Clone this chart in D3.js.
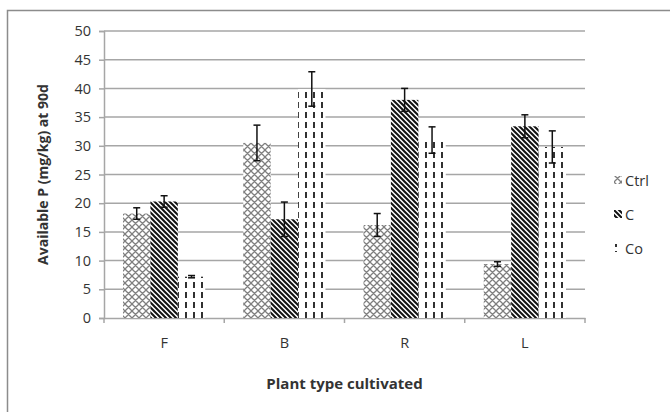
<!DOCTYPE html>
<html>
<head>
<meta charset="utf-8">
<script src="https://cdn.jsdelivr.net/npm/d3@7"></script>
<style>
  body { margin: 0; background: #fff; }
  text { font-family: "Open Sans", "Liberation Sans", sans-serif; fill: #333; }
</style>
</head>
<body>
<div id="chart"></div>
<script>
// Data
const categories = ["F", "B", "R", "L"];
const seriesNames = ["Ctrl", "C", "Co"];
const ctrlValues = [18.2, 30.5, 16.2, 9.4];
const ctrlErrors = [1.0, 3.1, 2.0, 0.4];
const cValues = [20.3, 17.2, 38.0, 33.4];
const cErrors = [1.0, 3.0, 2.0, 2.0];
const coValues = [7.2, 39.9, 31.0, 29.8];
const coErrors = [0.2, 3.0, 2.3, 2.8];
const yTicks = [0, 5, 10, 15, 20, 25, 30, 35, 40, 45, 50];

const width = 670, height = 412;
const margin = {top: 31, right: 85, bottom: 94, left: 104};

const svg = d3.select("#chart")
    .append("svg")
    .attr("width", width)
    .attr("height", height);

// patterns
const defs = svg.append("defs");

const pCtrl = defs.append("pattern")
    .attr("id", "pat-ctrl")
    .attr("patternUnits", "userSpaceOnUse")
    .attr("width", 7).attr("height", 7);
pCtrl.append("rect").attr("width", 7).attr("height", 7).attr("fill", "#fff");
pCtrl.append("path")
    .attr("d", "M-2,2 L2,-2 M0,7 L7,0 M5,9 L9,5 M-2,5 L2,9 M0,0 L7,7 M5,-2 L9,2")
    .attr("stroke", "#7f7f7f").attr("stroke-width", 1.3);

const pC = defs.append("pattern")
    .attr("id", "pat-c")
    .attr("patternUnits", "userSpaceOnUse")
    .attr("width", 5).attr("height", 5);
pC.append("rect").attr("width", 5).attr("height", 5).attr("fill", "#fff");
pC.append("path")
    .attr("d", "M-1,-1 L6,6 M-1,4 L1,6 M4,-1 L6,1")
    .attr("stroke", "#111").attr("stroke-width", 2);

const pCo = defs.append("pattern")
    .attr("id", "pat-co")
    .attr("patternUnits", "userSpaceOnUse")
    .attr("width", 8).attr("height", 10);
pCo.append("rect").attr("width", 8).attr("height", 10).attr("fill", "#fff");
pCo.append("line")
    .attr("x1", 2).attr("x2", 2).attr("y1", 1).attr("y2", 7)
    .attr("stroke", "#1a1a1a").attr("stroke-width", 1.8);

// outer chart border
svg.append("rect")
    .attr("x", 7.5).attr("y", 10.5)
    .attr("width", 700).attr("height", 450)
    .attr("fill", "none")
    .attr("stroke", "#8c8c8c")
    .attr("stroke-width", 1.5);

const g = svg.append("g")
    .attr("transform", "translate(" + margin.left + "," + margin.top + ")");

const plotW = 481, plotH = 287;

const x0 = d3.scaleBand().domain(categories).range([0, plotW]).paddingInner(0).paddingOuter(0);
const x1 = d3.scaleBand().domain(seriesNames).range([19, x0.bandwidth() - 19]);
const y = d3.scaleLinear().domain([0, 50]).range([plotH, 0]);

// gridlines
g.selectAll(".grid")
    .data(yTicks.filter(d => d > 0))
    .enter().append("line")
    .attr("class", "grid")
    .attr("x1", 0).attr("x2", plotW)
    .attr("y1", d => y(d)).attr("y2", d => y(d))
    .attr("stroke", "#a6a6a6").attr("stroke-width", 1.5);

// y axis
const yAxis = g.append("g")
    .call(d3.axisLeft(y).tickValues(yTicks).tickSize(5).tickPadding(8));
yAxis.select(".domain").attr("stroke", "#a6a6a6").attr("stroke-width", 1.5);
yAxis.selectAll(".tick line").attr("stroke", "#a6a6a6").attr("stroke-width", 1.5);
yAxis.selectAll("text").attr("font-size", 14.5).attr("fill", "#2b2b2b");

// x axis
const xAxis = g.append("g")
    .attr("transform", "translate(0," + plotH + ")")
    .call(d3.axisBottom(x0).tickSize(0).tickPadding(20));
xAxis.select(".domain").attr("stroke", "#a6a6a6").attr("stroke-width", 1.5);
xAxis.selectAll("text").attr("font-size", 14.5).attr("fill", "#2b2b2b");
xAxis.selectAll(".bound")
    .data(d3.range(categories.length + 1))
    .enter().append("line")
    .attr("class", "bound")
    .attr("x1", i => i * x0.bandwidth()).attr("x2", i => i * x0.bandwidth())
    .attr("y1", 0).attr("y2", 5)
    .attr("stroke", "#a6a6a6").attr("stroke-width", 1.5);

// bars
const series = [
    {name: "Ctrl", values: ctrlValues, errors: ctrlErrors, fill: "url(#pat-ctrl)"},
    {name: "C", values: cValues, errors: cErrors, fill: "url(#pat-c)"},
    {name: "Co", values: coValues, errors: coErrors, fill: "url(#pat-co)"}
];

series.forEach(s => {
    const rows = categories.map((c, i) => ({cat: c, v: s.values[i], e: s.errors[i]}));
    g.selectAll(".bar-" + s.name)
        .data(rows)
        .enter().append("rect")
        .attr("x", d => x0(d.cat) + x1(s.name))
        .attr("width", x1.bandwidth())
        .attr("y", d => y(d.v))
        .attr("height", d => plotH - y(d.v))
        .attr("fill", s.fill);
});

// error bars
series.forEach(s => {
    const rows = categories.map((c, i) => ({cat: c, v: s.values[i], e: s.errors[i]}));
    const eg = g.selectAll(".err-" + s.name)
        .data(rows)
        .enter().append("g")
        .attr("transform", d => "translate(" + (x0(d.cat) + x1(s.name) + x1.bandwidth() / 2) + ",0)");
    eg.append("line")
        .attr("y1", d => y(d.v + d.e)).attr("y2", d => y(d.v - d.e))
        .attr("stroke", "#111").attr("stroke-width", 1.5);
    eg.append("line")
        .attr("x1", -3.5).attr("x2", 3.5)
        .attr("y1", d => y(d.v + d.e)).attr("y2", d => y(d.v + d.e))
        .attr("stroke", "#111").attr("stroke-width", 1.5);
    eg.append("line")
        .attr("x1", -3.5).attr("x2", 3.5)
        .attr("y1", d => y(d.v - d.e)).attr("y2", d => y(d.v - d.e))
        .attr("stroke", "#111").attr("stroke-width", 1.5);
});

// axis titles
svg.append("text")
    .attr("transform", "translate(48," + (margin.top + plotH / 2) + ") rotate(-90)")
    .attr("text-anchor", "middle")
    .attr("font-size", 14)
    .attr("font-weight", "bold")
    .attr("fill", "#222")
    .text("Available P (mg/kg) at 90d");

svg.append("text")
    .attr("x", margin.left + plotW / 2)
    .attr("y", 389)
    .attr("text-anchor", "middle")
    .attr("font-size", 15)
    .attr("font-weight", "bold")
    .attr("fill", "#222")
    .text("Plant type cultivated");

// legend
const legend = svg.append("g").attr("transform", "translate(614,0)");
const legendY = [181, 215, 249];
series.forEach((s, i) => {
    legend.append("rect")
        .attr("x", 0).attr("y", legendY[i] - 5)
        .attr("width", 8).attr("height", 8)
        .attr("fill", s.fill);
    legend.append("text")
        .attr("x", 11).attr("y", legendY[i] + 5)
        .attr("font-size", 14.5)
        .attr("fill", "#2b2b2b")
        .text(s.name);
});
</script>
</body>
</html>
